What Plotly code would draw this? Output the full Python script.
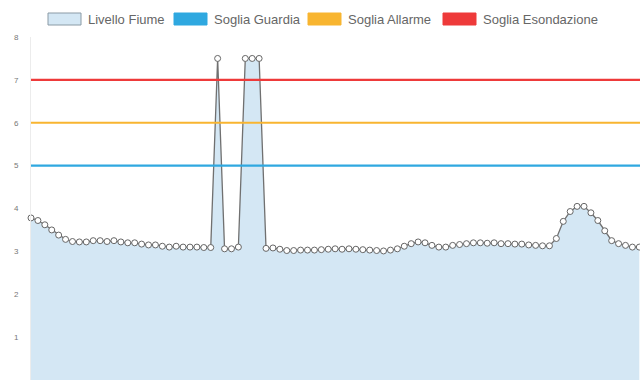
import plotly.graph_objects as go

# ---- data ----
livello = [3.78, 3.72, 3.62, 3.50, 3.38, 3.28, 3.23, 3.22, 3.22, 3.25,
           3.25, 3.23, 3.25, 3.22, 3.20, 3.20, 3.17, 3.15, 3.15, 3.12,
           3.10, 3.12, 3.10, 3.10, 3.10, 3.09, 3.09, 7.50, 3.06, 3.06,
           3.10, 7.50, 7.50, 7.50, 3.07, 3.08, 3.05, 3.02, 3.02, 3.03,
           3.03, 3.03, 3.04, 3.05, 3.06, 3.05, 3.06, 3.05, 3.04, 3.03,
           3.02, 3.01, 3.03, 3.06, 3.12, 3.18, 3.22, 3.20, 3.14, 3.10,
           3.10, 3.14, 3.16, 3.18, 3.20, 3.20, 3.19, 3.20, 3.18, 3.18,
           3.17, 3.17, 3.15, 3.14, 3.13, 3.13, 3.30, 3.70, 3.93, 4.05,
           4.05, 3.90, 3.72, 3.48, 3.25, 3.18, 3.14, 3.10, 3.10]
soglia_guardia = 5
soglia_allarme = 6
soglia_esondazione = 7
series_names = ["Livello Fiume", "Soglia Guardia", "Soglia Allarme", "Soglia Esondazione"]
y_ticks = [0, 1, 2, 3, 4, 5, 6, 7, 8]

x = list(range(len(livello)))

fill_col = "#D4E7F4"
line_col = "#707070"
colors = ["#2FA8E0", "#F8B530", "#EE3A3A"]

fig = go.Figure()
fig.add_trace(go.Scatter(
    x=x, y=livello, mode="lines+markers", fill="tozeroy", fillcolor=fill_col,
    line=dict(color=line_col, width=1.3),
    marker=dict(symbol="circle", size=6, color="white", line=dict(color="#666666", width=1)),
    showlegend=False, hoverinfo="skip", cliponaxis=False))

for val, col in zip([soglia_guardia, soglia_allarme, soglia_esondazione], colors):
    fig.add_trace(go.Scatter(
        x=[x[0] - 1, x[-1] + 1], y=[val, val], mode="lines",
        line=dict(color=col, width=2.2), showlegend=False, hoverinfo="skip"))

# ---- manual Chart.js-style legend ----
L, R, T, B = 31, 0, 37, 0
W, H = 640, 380
pw, ph = W - L - R, H - T - B

def px_to_paper_x(px):
    return (px - L) / pw

def px_to_paper_y(py):
    return (H - B - py) / ph

box_lefts = [48, 174, 308, 443]
box_w, box_h = 33, 12
legend_cy = 19
box_fill = [fill_col] + colors
box_line = ["#8a9aa5"] + colors
for name, bx, bf, bl in zip(series_names, box_lefts, box_fill, box_line):
    fig.add_shape(type="rect", xref="paper", yref="paper",
                  x0=px_to_paper_x(bx), x1=px_to_paper_x(bx + box_w),
                  y0=px_to_paper_y(legend_cy + box_h / 2), y1=px_to_paper_y(legend_cy - box_h / 2),
                  fillcolor=bf, line=dict(color=bl, width=1))
    fig.add_annotation(text=name, xref="paper", yref="paper",
                       x=px_to_paper_x(bx + box_w + 5), y=px_to_paper_y(legend_cy),
                       xanchor="left", yanchor="middle", showarrow=False,
                       font=dict(family="Liberation Sans, Arial, sans-serif", size=13, color="#666666"))

fig.update_layout(
    width=W, height=H,
    margin=dict(l=L, r=R, t=T, b=B, autoexpand=False),
    paper_bgcolor="white", plot_bgcolor="white",
    xaxis=dict(range=[0, 88.1], showgrid=False, zeroline=False, showticklabels=False,
               showline=False, fixedrange=True, automargin=False),
    yaxis=dict(range=[0, 8], tickvals=y_ticks, showgrid=False, zeroline=False,
               showline=True, linecolor="#ececec", linewidth=1, automargin=False,
               ticks="", ticklabelstandoff=10,
               tickfont=dict(family="Liberation Sans, Arial, sans-serif", size=8, color="#777777")),
)

fig.write_html("out.html", config={"displayModeBar": False},
               post_script="document.body.style.margin='0';")
